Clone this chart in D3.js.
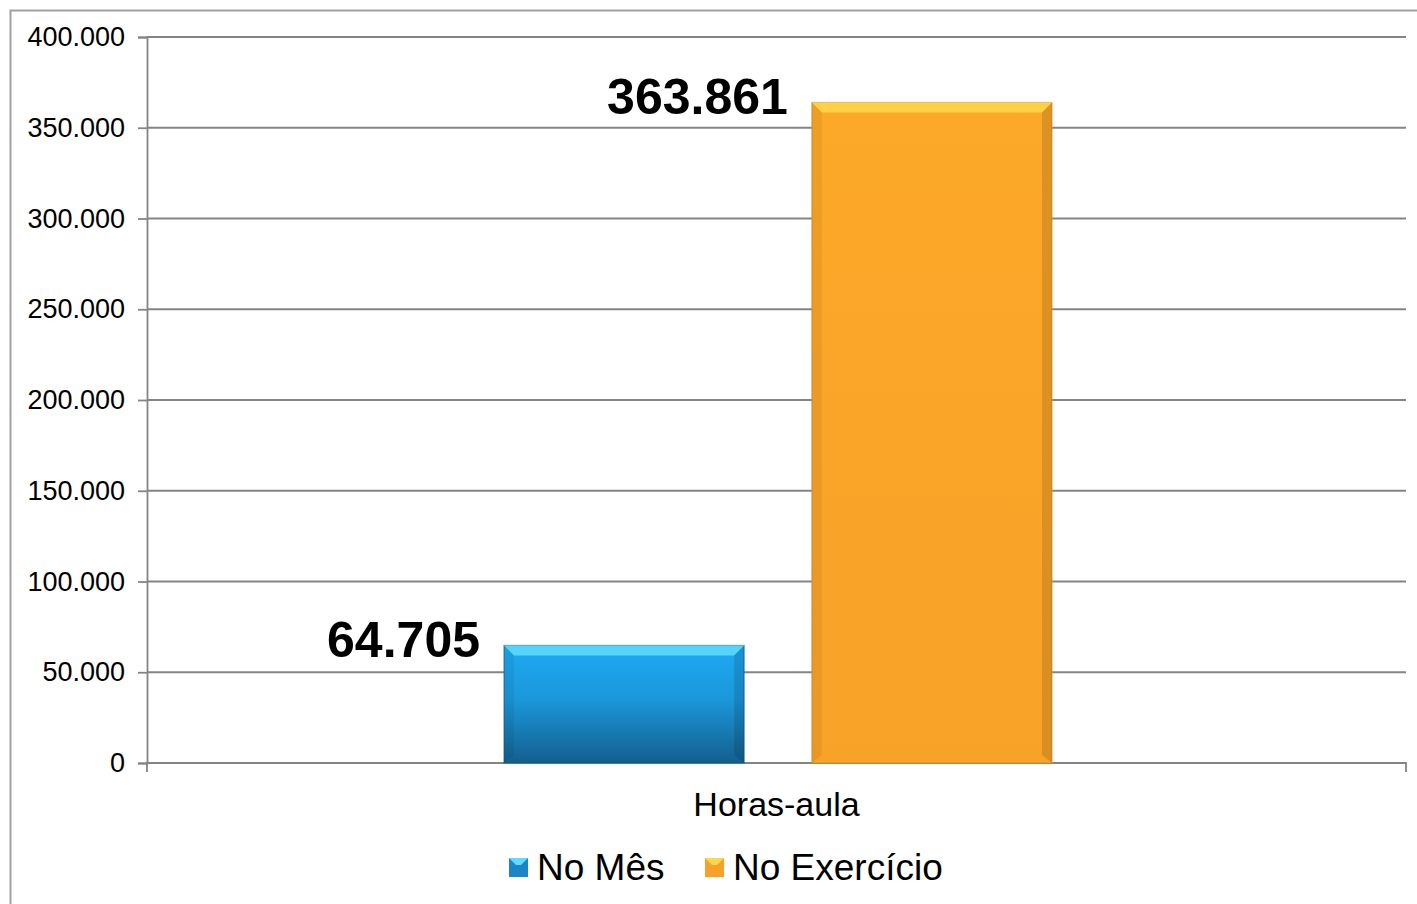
<!DOCTYPE html>
<html>
<head>
<meta charset="utf-8">
<script src="https://cdn.jsdelivr.net/npm/d3@7"></script>
<style>
  body { margin: 0; background: #fff; }
  svg { display: block; font-family: "Liberation Sans", Arial, sans-serif; }
</style>
</head>
<body>
<script>
// data
var categories = ["Horas-aula"];
var seriesNames = ["No Mês", "No Exercício"];
var seriesValues = [64705, 363861];
var valueLabels = ["64.705", "363.861"];
var yTicks = [0, 50000, 100000, 150000, 200000, 250000, 300000, 350000, 400000];

var W = 1417, H = 904;
var plotLeft = 147, plotRight = 1406, plotTop = 37, plotBottom = 763;

const svg = d3.select("body").append("svg")
    .attr("width", W)
    .attr("height", H);

const defs = svg.append("defs");
// bar gradients
var gb = defs.append("linearGradient").attr("id", "gBlue").attr("x1", 0).attr("y1", 0).attr("x2", 0).attr("y2", 1);
gb.append("stop").attr("offset", "0%").attr("stop-color", "#1ea9f2");
gb.append("stop").attr("offset", "45%").attr("stop-color", "#1b98dc");
gb.append("stop").attr("offset", "100%").attr("stop-color", "#135f8e");
var go = defs.append("linearGradient").attr("id", "gOrange").attr("x1", 0).attr("y1", 0).attr("x2", 0).attr("y2", 1);
go.append("stop").attr("offset", "0%").attr("stop-color", "#fca828");
go.append("stop").attr("offset", "100%").attr("stop-color", "#f8a228");
var colors = ["url(#gBlue)", "url(#gOrange)"];
var bevelTop = ["#5fdcff", "#ffd84a"];
var edge = ["#0f5a85", "#d88a1c"];
var legendCol = ["#1a86c6", "#f6a12a"];

// chart border
svg.append("rect")
    .attr("x", 10.5).attr("y", 10.5)
    .attr("width", W + 20).attr("height", H + 20)
    .attr("fill", "none")
    .attr("stroke", "#a0a0a0")
    .attr("stroke-width", 2);

var y = d3.scaleLinear().domain([0, 400000]).range([plotBottom, plotTop]);
var x0 = d3.scaleBand().domain(categories).range([plotLeft, plotRight]);
var x1 = d3.scaleBand().domain(seriesNames)
    .range([x0("Horas-aula") + 357, x0("Horas-aula") + 905])
    .paddingInner(0.22);

// gridlines
svg.append("g").selectAll("line")
    .data(yTicks.filter(d => d > 0))
    .enter().append("line")
    .attr("x1", plotLeft).attr("x2", plotRight)
    .attr("y1", d => y(d)).attr("y2", d => y(d))
    .attr("stroke", "#848484").attr("stroke-width", 1.8);

// y axis
var yAxis = svg.append("g")
    .attr("transform", "translate(" + plotLeft + ",0)")
    .call(d3.axisLeft(y).tickValues(yTicks).tickSize(9).tickPadding(13)
        .tickFormat(d => d === 0 ? "0" : d3.format(",")(d).replace(/,/g, ".")));
yAxis.select(".domain").attr("stroke", "#848484").attr("stroke-width", 1.8);
yAxis.selectAll(".tick line").attr("stroke", "#848484").attr("stroke-width", 1.8);
yAxis.selectAll(".tick text")
    .attr("font-size", 27)
    .attr("font-family", "Liberation Sans, Arial, sans-serif")
    .attr("fill", "#000");

// x axis
var xAxis = svg.append("g")
    .attr("transform", "translate(0," + plotBottom + ")")
    .call(d3.axisBottom(x0).tickSize(0).tickPadding(29));
xAxis.select(".domain").attr("stroke", "#848484").attr("stroke-width", 1.8)
    .attr("d", "M" + plotLeft + ",9V0H" + plotRight + "V9");
xAxis.selectAll(".tick text")
    .attr("font-size", 34)
    .attr("font-family", "Liberation Sans, Arial, sans-serif")
    .attr("fill", "#000");

// bars
var bars = svg.append("g").selectAll("g")
    .data(seriesValues)
    .enter().append("g");
bars.append("rect")
    .attr("x", (d, i) => x1(seriesNames[i]))
    .attr("y", d => y(d))
    .attr("width", x1.bandwidth())
    .attr("height", d => plotBottom - y(d))
    .attr("fill", (d, i) => colors[i])
    .attr("stroke", (d, i) => edge[i])
    .attr("stroke-opacity", 0.5)
    .attr("stroke-width", 1.5);
// top bevel
bars.append("path")
    .attr("d", function (d, i) {
        var xa = x1(seriesNames[i]), w = x1.bandwidth(), ya = y(d);
        return "M" + xa + "," + ya + "H" + (xa + w) + "L" + (xa + w - 10) + "," + (ya + 10) + "H" + (xa + 10) + "Z";
    })
    .attr("fill", (d, i) => bevelTop[i])
    .attr("opacity", 0.85);
// side shading
bars.append("path")
    .attr("d", function (d, i) {
        var xa = x1(seriesNames[i]), w = x1.bandwidth(), ya = y(d);
        return "M" + (xa + w) + "," + ya + "V" + plotBottom + "L" + (xa + w - 10) + "," + (plotBottom - 8) + "V" + (ya + 10) + "Z";
    })
    .attr("fill", "#000").attr("opacity", 0.12);
bars.append("path")
    .attr("d", function (d, i) {
        var xa = x1(seriesNames[i]), ya = y(d);
        return "M" + xa + "," + ya + "V" + plotBottom + "L" + (xa + 10) + "," + (plotBottom - 8) + "V" + (ya + 10) + "Z";
    })
    .attr("fill", "#000").attr("opacity", 0.06);

// value labels
bars.append("text")
    .attr("x", (d, i) => x1(seriesNames[i]) - 24)
    .attr("y", d => y(d) + 11)
    .attr("text-anchor", "end")
    .attr("font-size", 50)
    .attr("font-weight", "bold")
    .attr("fill", "#000")
    .text((d, i) => valueLabels[i]);

// legend
var legend = svg.append("g").attr("transform", "translate(0,867)");
var lx = [509, 705];
seriesNames.forEach(function (name, i) {
    legend.append("rect")
        .attr("x", lx[i]).attr("y", -9)
        .attr("width", 19).attr("height", 19)
        .attr("fill", legendCol[i]);
    legend.append("path")
        .attr("d", "M" + lx[i] + ",-9H" + (lx[i] + 19) + "L" + (lx[i] + 12) + ",-2H" + (lx[i] + 7) + "Z")
        .attr("fill", bevelTop[i]);
    legend.append("text")
        .attr("x", lx[i] + 28).attr("y", 13)
        .attr("font-size", 37)
        .attr("fill", "#000")
        .text(name);
});
</script>
</body>
</html>
